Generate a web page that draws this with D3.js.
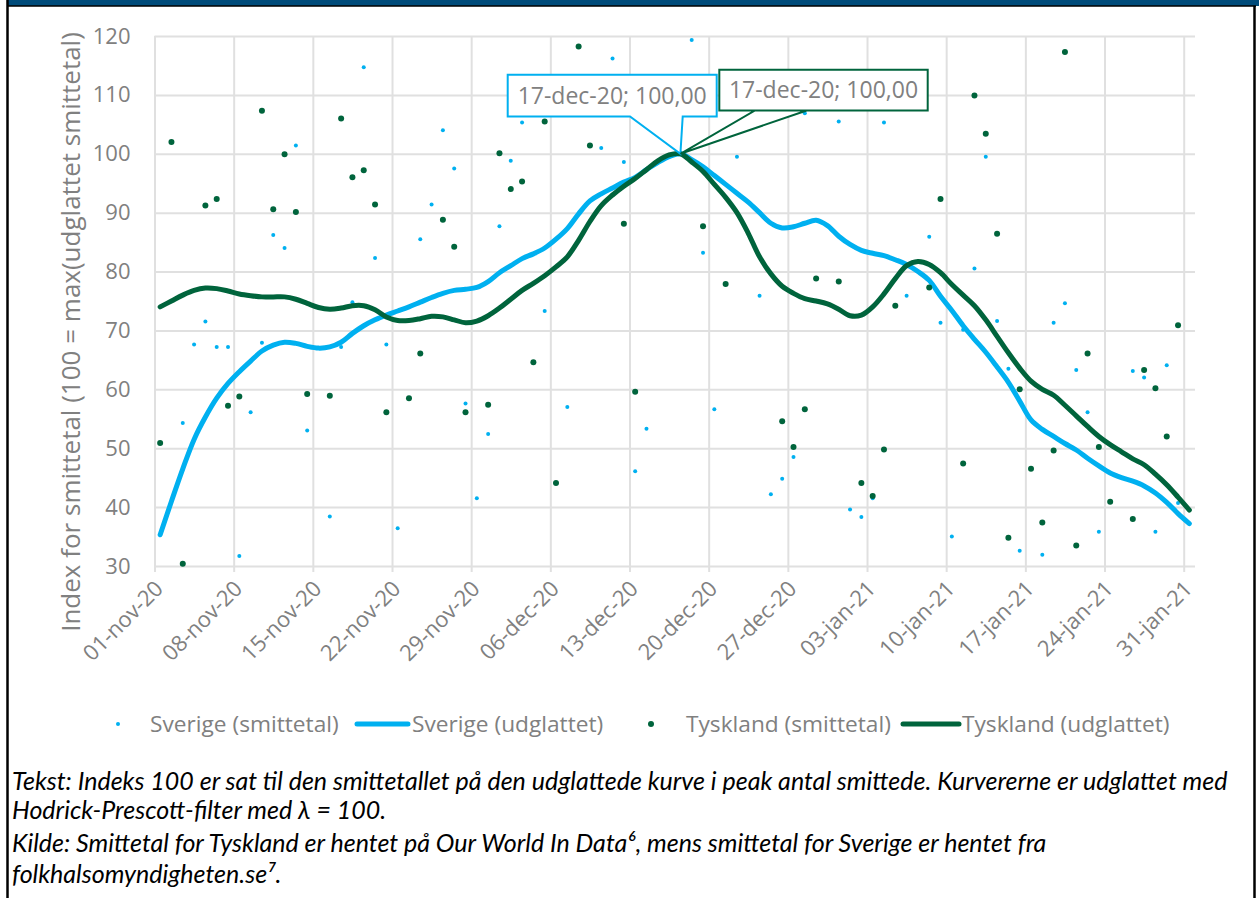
<!DOCTYPE html>
<meta charset="utf-8">
<style>
body { margin: 0; background: #fff; }
.grid line { stroke: #e0e0e0; stroke-width: 2px; }
.grid .domain { display: none; }
.tick text, .lbl { font-family: "Open Sans", sans-serif; fill: #808080; }
.note { font-family: Lato, sans-serif; font-style: italic; font-size: 25px; fill: #000; }
</style>
<body>
<script src="https://d3js.org/d3.v7.min.js"></script>
<script>

// daily values 01-nov-20 .. 31-jan-21 (index 100 = max of smoothed curve)
var sverigeSmitte = [
  null, null, 54.3, 67.6, 71.5, 67.2, 67.2, 31.7, 56.1, 67.9,
  86.2, 84.0, 101.4, 53.0, null, 38.4, 67.2, 74.8, 114.7, 82.3,
  67.6, 36.4, null, 85.5, 91.4, 104.0, 97.5, 57.6, 41.5, 52.4,
  87.7, 98.8, 105.3, null, 73.3, null, 57.0, null, null, 101.0,
  116.2, 98.6, 46.1, 53.3, null, null, null, 119.3, 83.2, 56.6,
  null, 99.5, null, 75.9, 42.2, 44.8, 48.5, 106.9, null, null,
  105.5, 39.6, 38.3, 41.5, 105.3, null, 75.9, null, 85.9, 71.3,
  35.0, 70.1, 80.5, 99.5, 71.6, 63.5, 32.6, null, 31.9, 71.3,
  74.6, 63.3, 56.1, 35.8, null, null, 63.1, 62.0, 35.8, 64.1,
  40.7, null];

var sverigeUdglattet = [
  35.3, 41.0, 46.5, 51.5, 55.3, 58.5, 61.0, 63.0, 64.8, 66.5,
  67.5, 68.0, 67.8, 67.3, 67.0, 67.2, 68.0, 69.5, 70.8, 71.8,
  72.6, 73.3, 74.0, 74.8, 75.6, 76.3, 76.8, 77.0, 77.3, 78.3,
  79.8, 81.0, 82.2, 83.0, 84.0, 85.5, 87.3, 89.8, 92.0, 93.2,
  94.2, 95.2, 96.0, 97.3, 98.5, 99.5, 100.0, 99.0, 97.8, 96.3,
  94.8, 93.3, 91.8, 90.0, 88.2, 87.4, 87.6, 88.2, 88.7, 87.8,
  86.0, 84.6, 83.6, 83.1, 82.7, 82.0, 81.2, 80.0, 78.5, 75.8,
  73.4, 70.8, 68.5, 66.3, 63.8, 61.2, 58.0, 54.8, 53.2, 52.0,
  50.8, 49.7, 48.3, 47.0, 45.8, 45.0, 44.4, 43.6, 42.4, 40.8,
  38.9, 37.2];

var tysklandSmitte = [
  50.9, 102.0, 30.4, null, 91.2, 92.3, 57.2, 58.8, null, 107.3,
  90.6, 99.9, 90.1, 59.2, null, 58.9, 106.0, 96.0, 97.2, 91.4,
  56.1, null, 58.5, 66.1, null, 88.8, 84.2, 56.1, null, 57.4,
  100.1, 94.0, 95.3, 64.6, 105.5, 44.1, null, 118.2, 101.4, null,
  null, 88.1, 59.6, null, null, null, null, null, 87.7, null,
  77.9, null, null, null, null, 54.6, 50.2, 56.6, 78.8, null,
  78.3, null, 44.1, 41.9, 49.8, 74.2, null, null, 77.3, 92.3,
  null, 47.4, 109.9, 103.4, 86.4, 34.8, 60.0, 46.5, 37.4, 49.6,
  117.3, 33.5, 66.1, 50.2, 40.9, null, 38.0, 63.3, 60.2, 52.0,
  70.9, null];

var tysklandUdglattet = [
  74.0, 75.0, 76.0, 76.8, 77.2, 77.1, 76.7, 76.2, 75.9, 75.7,
  75.7, 75.7, 75.3, 74.6, 73.9, 73.6, 73.8, 74.2, 74.2, 73.5,
  72.3, 71.7, 71.7, 72.0, 72.4, 72.3, 71.8, 71.3, 71.6, 72.5,
  73.8, 75.3, 76.8, 78.0, 79.3, 80.8, 82.5, 85.3, 88.5, 91.2,
  93.0, 94.5, 95.8, 97.3, 98.8, 99.8, 100.0, 98.6, 97.0, 94.8,
  92.6, 90.0, 86.5, 82.5, 79.6, 77.5, 76.3, 75.4, 75.0, 74.5,
  73.6, 72.5, 72.6, 74.0, 76.2, 78.8, 81.0, 81.7, 81.2, 79.8,
  77.8, 76.0, 74.2, 71.8, 69.0, 66.2, 63.6, 61.4, 60.0, 59.0,
  57.3, 55.5, 53.7, 52.0, 50.6, 49.4, 48.2, 47.2, 45.6, 43.8,
  41.7, 39.5];

var yTicks = [30, 40, 50, 60, 70, 80, 90, 100, 110, 120];
var xTickLabels = ["01-nov-20", "08-nov-20", "15-nov-20", "22-nov-20", "29-nov-20",
  "06-dec-20", "13-dec-20", "20-dec-20", "27-dec-20", "03-jan-21",
  "10-jan-21", "17-jan-21", "24-jan-21", "31-jan-21"];
var legendNames = ["Sverige (smittetal)", "Sverige (udglattet)", "Tyskland (smittetal)", "Tyskland (udglattet)"];
var yTitle = "Index for smittetal (100 = max(udglattet smittetal)";

var blue = "#00b0f0", green = "#00643c";

var start = new Date(Date.UTC(2020, 10, 1)),
    end = new Date(Date.UTC(2021, 1, 1));
var days = d3.utcDay.range(start, end);
var tickDates = d3.utcDay.range(start, end, 7);

var daLocale = d3.timeFormatLocale({
  dateTime: "%A den %d %B %Y %X", date: "%d.%m.%Y", time: "%H:%M:%S",
  periods: ["AM", "PM"],
  days: ["søndag", "mandag", "tirsdag", "onsdag", "torsdag", "fredag", "lørdag"],
  shortDays: ["søn", "man", "tir", "ons", "tor", "fre", "lør"],
  months: ["januar", "februar", "marts", "april", "maj", "juni", "juli", "august", "september", "oktober", "november", "december"],
  shortMonths: ["jan", "feb", "mar", "apr", "maj", "jun", "jul", "aug", "sep", "okt", "nov", "dec"]
});
var fmtDate = daLocale.utcFormat("%d-%b-%y");
var fmtNum = d3.formatLocale({decimal: ",", thousands: ".", grouping: [3], currency: ["", " kr"]}).format(".2f");

var width = 1259, height = 898;
var svg = d3.select("body").append("svg")
    .attr("width", width)
    .attr("height", height);

// frame
svg.append("rect").attr("x", 7).attr("y", 0).attr("width", 1252).attr("height", 6).attr("fill", "#004b7a");
svg.append("line").attr("x1", 7).attr("x2", 1256).attr("y1", 6).attr("y2", 6).attr("stroke", "#000").attr("stroke-width", 1.5);
svg.append("line").attr("x1", 7.5).attr("x2", 7.5).attr("y1", 0).attr("y2", height).attr("stroke", "#000").attr("stroke-width", 2.5);
svg.append("line").attr("x1", 1254.5).attr("x2", 1254.5).attr("y1", 6).attr("y2", height).attr("stroke", "#000").attr("stroke-width", 2.5);

var x = d3.scaleUtc().domain([start, end]).range([154.5, 1195]);
var y = d3.scaleLinear().domain([30, 120]).range([566, 36]);
function px(i) { return x(d3.utcHour.offset(days[i], 12)); }

// vertical gridlines (run 6px past the bottom like ticks)
svg.append("g")
    .attr("class", "grid")
    .attr("transform", "translate(0," + y(120) + ")")
    .call(d3.axisTop(x).tickValues(tickDates).tickSize(-(y(30) - y(120) + 6)).tickFormat(""));

// horizontal gridlines + y labels
svg.append("g")
    .attr("class", "grid")
    .attr("transform", "translate(" + x(start) + ",0)")
    .call(d3.axisLeft(y).tickValues(yTicks).tickSize(-(x(end) - x(start))).tickPadding(24))
    .selectAll("text").style("font-size", "22px");

// x labels
svg.append("g").selectAll("text")
    .data(tickDates)
    .join("text")
    .attr("class", "lbl")
    .attr("text-anchor", "end")
    .style("font-size", "22px")
    .attr("transform", function(d) { return "translate(" + (x(d) + 10) + "," + (y(30) + 24) + ") rotate(-45)"; })
    .text(function(d, i) { return xTickLabels[i]; });

// y title
svg.append("text")
    .attr("class", "lbl")
    .attr("text-anchor", "middle")
    .style("font-size", "26px")
    .attr("transform", "translate(80," + 332 + ") rotate(-90)")
    .text(yTitle);

var line = d3.line()
    .defined(function(d) { return d != null; })
    .x(function(d, i) { return px(i); })
    .y(function(d) { return y(d); })
    .curve(d3.curveCatmullRom);

function dots(data, color, r) {
  svg.append("g").selectAll("circle")
      .data(data.map(function(v, i) { return {i: i, v: v}; })
        .filter(function(d) { return d.v != null && d.v >= 30 && d.v <= 120; }))
      .join("circle")
      .attr("cx", function(d) { return px(d.i); })
      .attr("cy", function(d) { return y(d.v); })
      .attr("r", r)
      .attr("fill", color);
}

dots(sverigeSmitte, blue, 2);
svg.append("path").datum(sverigeUdglattet)
    .attr("fill", "none").attr("stroke", blue).attr("stroke-width", 5)
    .attr("stroke-linecap", "round").attr("stroke-linejoin", "round")
    .attr("d", line);
dots(tysklandSmitte, green, 3);
svg.append("path").datum(tysklandUdglattet)
    .attr("fill", "none").attr("stroke", green).attr("stroke-width", 5)
    .attr("stroke-linecap", "round").attr("stroke-linejoin", "round")
    .attr("d", line);

// data label callouts at the peak
function callout(series, color, box, base, ty) {
  var k = d3.maxIndex(series);
  var cx = px(k), cy = y(series[k]);
  var l = cx + box[0], r = cx + box[1], t = cy + box[2], b = cy + box[3];
  var p = d3.path();
  p.moveTo(l, t); p.lineTo(r, t); p.lineTo(r, b);
  p.lineTo(cx + base[1], b); p.lineTo(cx, cy); p.lineTo(cx + base[0], b);
  p.lineTo(l, b); p.closePath();
  svg.append("path").attr("d", p.toString())
      .attr("fill", "#fff").attr("stroke", color).attr("stroke-width", 2);
  svg.append("text")
      .attr("class", "lbl")
      .attr("text-anchor", "middle")
      .style("font-size", "23px")
      .attr("x", (l + r) / 2)
      .attr("y", cy + ty)
      .text(fmtDate(days[k]) + "; " + fmtNum(series[k]));
}
callout(sverigeUdglattet, blue, [-172.7, 36.3, -79, -37.3], [-50.4, 2.3], -50);
callout(tysklandUdglattet, green, [38.9, 247.3, -84, -43.3], [126.3, 74.6], -56);

// legend
var lg = svg.append("g").attr("transform", "translate(0,724)");
lg.append("circle").attr("cx", 118).attr("cy", 0).attr("r", 2).attr("fill", blue);
lg.append("line").attr("x1", 357).attr("x2", 408).attr("y1", 0).attr("y2", 0)
    .attr("stroke", blue).attr("stroke-width", 5).attr("stroke-linecap", "round");
lg.append("circle").attr("cx", 651).attr("cy", 0).attr("r", 3).attr("fill", green);
lg.append("line").attr("x1", 903).attr("x2", 959).attr("y1", 0).attr("y2", 0)
    .attr("stroke", green).attr("stroke-width", 5).attr("stroke-linecap", "round");
var legX = [150, 412, 686, 962];
lg.selectAll("text.lbl")
    .data(legendNames)
    .join("text")
    .attr("class", "lbl")
    .style("font-size", "22.7px")
    .attr("x", function(d, i) { return legX[i]; })
    .attr("y", 8)
    .text(function(d) { return d; });

// notes
var notes = svg.append("g");
notes.append("text").attr("class", "note").attr("x", 12).attr("y", 790)
    .text("Tekst: Indeks 100 er sat til den smittetallet på den udglattede kurve i peak antal smittede. Kurvererne er udglattet med");
notes.append("text").attr("class", "note").attr("x", 12).attr("y", 819)
    .text("Hodrick-Prescott-filter med λ = 100.");
notes.append("text").attr("class", "note").attr("x", 12).attr("y", 852)
    .text("Kilde: Smittetal for Tyskland er hentet på Our World In Data⁶, mens smittetal for Sverige er hentet fra");
notes.append("text").attr("class", "note").attr("x", 12).attr("y", 883)
    .text("folkhalsomyndigheten.se⁷.");

</script>
</body>
